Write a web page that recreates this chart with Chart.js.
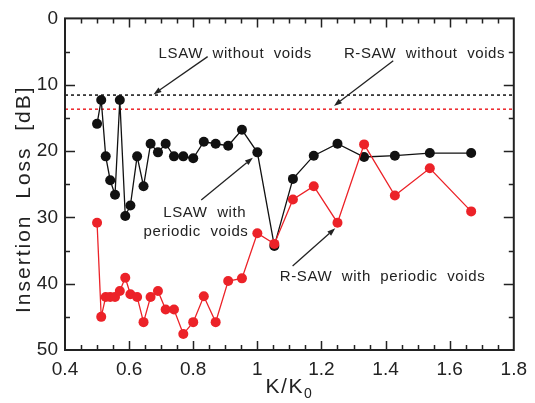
<!DOCTYPE html>
<html>
<head>
<meta charset="utf-8">
<script src="https://cdn.jsdelivr.net/npm/chart.js@4"></script>
<style>
  html, body { margin: 0; padding: 0; background: #ffffff; }
  #wrap { width: 535px; height: 403px; }
</style>
</head>
<body>
<div id="wrap"><canvas id="c" width="535" height="403"></canvas></div>
<script>
// ---- data ----
const K = [0.5, 0.513, 0.527, 0.541, 0.556, 0.571, 0.588, 0.604, 0.625, 0.645, 0.667, 0.69, 0.714, 0.74, 0.769, 0.8, 0.833, 0.87, 0.909, 0.952, 1.0, 1.053, 1.111, 1.176, 1.25, 1.333, 1.429, 1.538, 1.667];
const lsawPeriodicVoids = [15.9, 12.3, 20.8, 24.4, 26.6, 12.3, 29.8, 28.2, 20.8, 25.3, 18.9, 20.2, 18.9, 20.8, 20.8, 21.1, 18.6, 18.9, 19.2, 16.8, 20.2, 34.3, 24.2, 20.7, 18.9, 20.9, 20.7, 20.3, 20.3];
const rsawPeriodicVoids = [30.8, 45.0, 42.0, 42.0, 42.0, 41.1, 39.1, 41.6, 42.0, 45.8, 42.0, 41.1, 43.9, 43.9, 47.6, 45.8, 41.9, 45.8, 39.6, 39.2, 32.4, 34.0, 27.3, 25.3, 30.8, 19.0, 26.7, 22.6, 29.1];
const lsawWithoutVoids = 11.56;
const rsawWithoutVoids = 13.69;
const xTicks = [0.4, 0.6, 0.8, 1.0, 1.2, 1.4, 1.6, 1.8];
const xTickLabels = ['0.4', '0.6', '0.8', '1', '1.2', '1.4', '1.6', '1.8'];
const yTicks = [0, 10, 20, 30, 40, 50];
const yTickLabels = ['0', '10', '20', '30', '40', '50'];
const xRange = [0.4, 1.8];
const yRange = [0, 50];

// annotation texts (anchored in data units: left x, baseline y)
const notes = [
  { text: 'LSAW  without  voids', x: 0.692, y: 5.95 },
  { text: 'R-SAW  without  voids', x: 1.270, y: 5.95 },
  { text: 'LSAW  with', x: 0.7065, y: 29.91 },
  { text: 'periodic  voids', x: 0.645, y: 32.78 },
  { text: 'R-SAW  with  periodic  voids', x: 1.070, y: 39.58 }
];
// arrows (data units): from -> to (head at "to")
const arrows = [
  { x0: 0.845, y0: 5.76, x1: 0.676, y1: 11.46 },
  { x0: 1.424, y0: 6.40, x1: 1.239, y1: 13.2 },
  { x0: 0.825, y0: 27.4, x1: 0.986, y1: 21.0 },
  { x0: 1.110, y0: 37.35, x1: 1.243, y1: 31.65 }
];

const FONT = '"Liberation Sans", Arial, Helvetica, sans-serif';
const INK = '#222222';
const BLACK = '#111111';
const RED = '#ec2228';

const pts = (ys) => K.map((k, i) => ({ x: k, y: ys[i] }));
const hline = (v) => [{ x: xRange[0], y: v }, { x: xRange[1], y: v }];

const decor = {
  id: 'decor',
  afterDraw(chart) {
    const ctx = chart.ctx;
    const xs = chart.scales.x, ys = chart.scales.y;
    const a = chart.chartArea;
    ctx.save();
    // frame
    ctx.strokeStyle = INK;
    ctx.lineWidth = 2;
    ctx.strokeRect(a.left, a.top, a.right - a.left, a.bottom - a.top);
    // inward ticks
    ctx.lineWidth = 1.5;
    ctx.beginPath();
    const nx = Math.round((xRange[1] - xRange[0]) / 0.05);
    for (let i = 1; i < nx; i++) {
      const v = xRange[0] + i * 0.05;
      const len = (i % 4 === 0) ? 9 : 5;
      const p = Math.round(xs.getPixelForValue(v)) + 0.5;
      ctx.moveTo(p, a.bottom); ctx.lineTo(p, a.bottom - len);
      ctx.moveTo(p, a.top); ctx.lineTo(p, a.top + len);
    }
    const ny = Math.round((yRange[1] - yRange[0]) / 5);
    for (let i = 1; i < ny; i++) {
      const v = yRange[0] + i * 5;
      const len = (i % 2 === 0) ? 10 : 5;
      const p = Math.round(ys.getPixelForValue(v)) + 0.5;
      ctx.moveTo(a.left, p); ctx.lineTo(a.left + len, p);
      ctx.moveTo(a.right, p); ctx.lineTo(a.right - len, p);
    }
    ctx.stroke();

    // annotation texts
    ctx.fillStyle = INK;
    ctx.font = '15px ' + FONT;
    ctx.textAlign = 'left';
    ctx.textBaseline = 'alphabetic';
    try { ctx.letterSpacing = '0.6px'; } catch (e) {}
    notes.forEach(n => {
      ctx.fillText(n.text, xs.getPixelForValue(n.x), ys.getPixelForValue(n.y));
    });

    // arrows
    ctx.strokeStyle = INK;
    ctx.fillStyle = INK;
    ctx.lineWidth = 1.3;
    arrows.forEach(r => {
      const X0 = xs.getPixelForValue(r.x0), Y0 = ys.getPixelForValue(r.y0);
      const X1 = xs.getPixelForValue(r.x1), Y1 = ys.getPixelForValue(r.y1);
      const ang = Math.atan2(Y1 - Y0, X1 - X0);
      const hl = 8, hw = 2.8;
      const bx = X1 - hl * Math.cos(ang), by = Y1 - hl * Math.sin(ang);
      ctx.beginPath();
      ctx.moveTo(X0, Y0); ctx.lineTo(bx, by);
      ctx.stroke();
      ctx.beginPath();
      ctx.moveTo(X1, Y1);
      ctx.lineTo(bx + hw * Math.sin(ang), by - hw * Math.cos(ang));
      ctx.lineTo(bx - hw * Math.sin(ang), by + hw * Math.cos(ang));
      ctx.closePath();
      ctx.fill();
    });

    // axis titles
    try { ctx.letterSpacing = '1.5px'; } catch (e) {}
    ctx.font = '21px ' + FONT;
    const main = 'K/K';
    const sub = '0';
    const wMain = ctx.measureText(main).width;
    ctx.font = '14px ' + FONT;
    const wSub = ctx.measureText(sub).width;
    const cx = (a.left + a.right) / 2;
    const startX = cx - (wMain + wSub) / 2;
    ctx.font = '21px ' + FONT;
    ctx.textAlign = 'left';
    ctx.fillText(main, startX, 393);
    ctx.font = '14px ' + FONT;
    ctx.fillText(sub, startX + wMain, 398);

    try { ctx.letterSpacing = '2px'; } catch (e) {}
    ctx.font = '21px ' + FONT;
    ctx.translate(30, (a.top + a.bottom) / 2 + 15);
    ctx.rotate(-Math.PI / 2);
    ctx.textAlign = 'center';
    ctx.fillText('Insertion  Loss  [dB]', 0, 0);
    ctx.restore();
  }
};

new Chart(document.getElementById('c'), {
  type: 'scatter',
  data: {
    datasets: [
      {
        label: 'R-SAW with periodic voids',
        data: pts(rsawPeriodicVoids),
        showLine: true,
        borderColor: RED,
        backgroundColor: RED,
        borderWidth: 1.3,
        pointRadius: 5,
        pointBorderWidth: 0,
        pointBackgroundColor: RED
      },
      {
        label: 'LSAW with periodic voids',
        data: pts(lsawPeriodicVoids),
        showLine: true,
        borderColor: BLACK,
        backgroundColor: BLACK,
        borderWidth: 1.3,
        pointRadius: 5,
        pointBorderWidth: 0,
        pointBackgroundColor: BLACK
      },
      {
        label: 'R-SAW without voids',
        data: hline(rsawWithoutVoids),
        showLine: true,
        borderColor: RED,
        borderWidth: 1.5,
        borderDash: [3, 3],
        pointRadius: 0
      },
      {
        label: 'LSAW without voids',
        data: hline(lsawWithoutVoids),
        showLine: true,
        borderColor: BLACK,
        borderWidth: 1.5,
        borderDash: [3, 3],
        pointRadius: 0
      }
    ]
  },
  options: {
    responsive: false,
    animation: false,
    devicePixelRatio: 1,
    layout: { padding: { left: 0, right: 15, top: 14, bottom: 0 } },
    plugins: { legend: { display: false }, tooltip: { enabled: false } },
    elements: { line: { tension: 0 } },
    scales: {
      x: {
        type: 'linear',
        min: xRange[0], max: xRange[1],
        grid: { display: false, drawTicks: false },
        border: { display: false },
        afterBuildTicks: (s) => { s.ticks = xTicks.map(v => ({ value: v })); },
        afterFit: (s) => { s.height = 53; },
        ticks: {
          padding: 8,
          color: INK,
          font: { family: FONT, size: 19 },
          maxRotation: 0,
          autoSkip: false,
          callback: (v) => { const i = xTicks.findIndex(t => Math.abs(t - v) < 1e-6); return i >= 0 ? xTickLabels[i] : ''; }
        }
      },
      y: {
        type: 'linear',
        reverse: true,
        min: yRange[0], max: yRange[1],
        grid: { display: false, drawTicks: false },
        border: { display: false },
        afterBuildTicks: (s) => { s.ticks = yTicks.map(v => ({ value: v })); },
        afterFit: (s) => { s.width = 65; },
        ticks: {
          padding: 7,
          color: INK,
          font: { family: FONT, size: 19 },
          autoSkip: false,
          callback: (v) => { const i = yTicks.findIndex(t => Math.abs(t - v) < 1e-6); return i >= 0 ? yTickLabels[i] : ''; }
        }
      }
    }
  },
  plugins: [decor]
});
</script>
</body>
</html>
